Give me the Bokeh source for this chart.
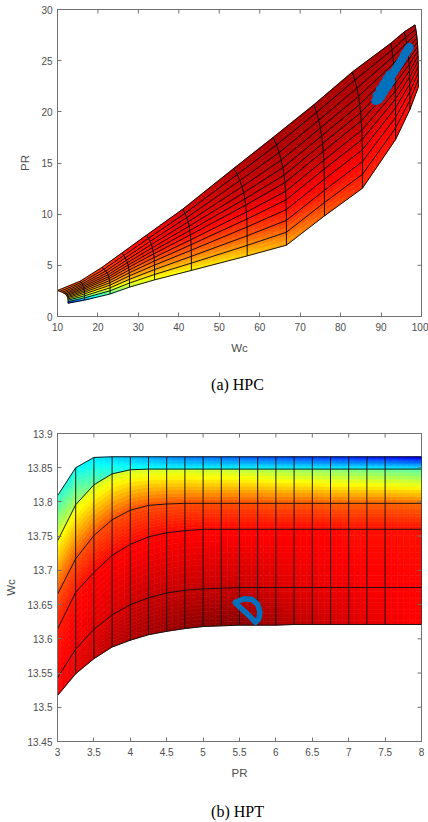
import numpy as np
from bokeh.plotting import figure
from bokeh.models import (ColumnDataSource, FixedTicker, Range1d, LinearAxis,
                          CustomJSTickFormatter)
from bokeh.layouts import column
from bokeh.embed import file_html
from bokeh.resources import INLINE

# ---------------- HPC map data (speed lines: surge end -> choke end) ----------
hpc_top_wc = [10.0, 15.6, 21.0, 25.9, 32.0, 41.0, 53.6, 63.3, 73.4, 82.9, 92.4, 95.7, 98.4]
hpc_top_pr = [2.54, 3.45, 4.8, 6.2, 7.95, 10.5, 14.48, 17.5, 20.7, 23.9, 26.7, 27.8, 28.5]
hpc_bot_wc = [12.6, 16.7, 23.0, 27.8, 34.0, 43.1, 56.9, 66.6, 76.0, 85.4, 93.6, 97.1, 99.2]
hpc_bot_pr = [1.3, 1.6, 2.2, 2.87, 3.58, 4.5, 5.92, 6.97, 9.83, 12.53, 17.3, 20.2, 22.4]
hpc_beta = [0, 0.07, 0.14, 0.21, 0.28, 0.35, 0.42, 0.50, 0.58, 0.67, 0.77, 0.88, 1.0]
# efficiency colour level (0..1 on jet) per speed line at beta = 0, 0.4, 0.75, 1
hpc_eff_knots = [0.0, 0.4, 0.75, 1.0]
hpc_eff_top = [0.78, 0.80, 0.83, 0.86, 0.89, 0.92, 0.95, 0.96, 0.96, 0.96, 0.96, 0.96, 0.96]
hpc_eff_mid = [0.74, 0.76, 0.79, 0.82, 0.85, 0.88, 0.91, 0.93, 0.94, 0.94, 0.94, 0.93, 0.93]
hpc_eff_low = [0.60, 0.62, 0.66, 0.70, 0.73, 0.76, 0.80, 0.84, 0.87, 0.88, 0.88, 0.88, 0.88]
hpc_eff_bot = [0.10, 0.25, 0.45, 0.55, 0.60, 0.63, 0.67, 0.71, 0.78, 0.83, 0.86, 0.86, 0.86]
hpc_op_wc = [88.7, 89.2, 89.7, 90.2, 90.7, 91.2, 91.7, 92.2, 92.7, 93.2, 93.7, 94.2, 94.7,
             95.2, 95.7, 96.2, 96.7, 97.0, 89.4, 90.0, 90.6, 91.2, 91.8, 92.4,
             89.0, 89.8, 90.6, 91.4, 92.1]
hpc_op_pr = [21.1, 21.4, 21.7, 22.0, 22.3, 22.7, 23.0, 23.3, 23.6, 23.9, 24.2, 24.5, 24.8,
             25.1, 25.5, 25.8, 26.1, 26.3, 21.2, 21.5, 21.9, 22.3, 22.6, 23.0,
             21.6, 22.2, 22.7, 23.2, 23.6]

# ---------------- HPT map data ------------------------------------------------
hpt_pr = [3, 3.25, 3.5, 3.75, 4, 4.25, 4.5, 4.75, 5, 5.25, 5.5, 5.75, 6, 6.25, 6.5, 6.75,
          7, 7.25, 7.5, 8]
hpt_wc_r0 = [13.517, 13.549, 13.571, 13.588, 13.598, 13.606, 13.611, 13.615, 13.618, 13.619,
             13.620, 13.620, 13.620, 13.621, 13.621, 13.621, 13.621, 13.621, 13.621, 13.621]
hpt_wc_r1 = [13.543, 13.585, 13.614, 13.635, 13.650, 13.660, 13.667, 13.671, 13.673, 13.674,
             13.675, 13.675, 13.675, 13.675, 13.675, 13.675, 13.675, 13.675, 13.675, 13.675]
hpt_wc_r2 = [13.614, 13.668, 13.697, 13.722, 13.738, 13.749, 13.755, 13.758, 13.760, 13.760,
             13.760, 13.760, 13.760, 13.760, 13.760, 13.760, 13.760, 13.760, 13.760, 13.760]
hpt_wc_r3 = [13.665, 13.717, 13.751, 13.774, 13.788, 13.795, 13.797, 13.798, 13.798, 13.798,
             13.798, 13.798, 13.798, 13.798, 13.798, 13.798, 13.798, 13.798, 13.798, 13.798]
hpt_wc_r4 = [13.743, 13.796, 13.825, 13.841, 13.847, 13.848, 13.848, 13.848, 13.848, 13.848,
             13.848, 13.848, 13.848, 13.848, 13.848, 13.848, 13.848, 13.848, 13.848, 13.848]
hpt_wc_r5 = [13.809, 13.850, 13.865, 13.866, 13.866, 13.866, 13.866, 13.866, 13.866, 13.866,
             13.866, 13.866, 13.866, 13.866, 13.866, 13.866, 13.866, 13.866, 13.866, 13.866]
hpt_eff_r0 = [0.88, 0.90, 0.92, 0.94, 0.95, 0.96, 0.97, 0.98, 0.99, 0.99, 0.99, 0.98, 0.96,
              0.94, 0.93, 0.92, 0.91, 0.90, 0.89, 0.87]
hpt_eff_r1 = [0.87, 0.89, 0.90, 0.91, 0.92, 0.93, 0.93, 0.93, 0.93, 0.93, 0.93, 0.92, 0.91,
              0.90, 0.90, 0.89, 0.89, 0.88, 0.88, 0.87]
hpt_eff_r2 = [0.85, 0.86, 0.87, 0.87, 0.87, 0.87, 0.87, 0.87, 0.87, 0.87, 0.87, 0.87, 0.87,
              0.87, 0.87, 0.87, 0.86, 0.86, 0.86, 0.86]
hpt_eff_r3 = [0.80, 0.80, 0.80, 0.80, 0.80, 0.80, 0.80, 0.80, 0.80, 0.80, 0.80, 0.80, 0.79,
              0.79, 0.79, 0.78, 0.78, 0.78, 0.78, 0.77]
hpt_eff_r4 = [0.62, 0.60, 0.58, 0.58, 0.58, 0.58, 0.58, 0.58, 0.57, 0.57, 0.56, 0.55, 0.54,
              0.53, 0.52, 0.51, 0.50, 0.49, 0.48, 0.46]
hpt_eff_r4_upper = [0.62, 0.55, 0.48, 0.43, 0.40, 0.39, 0.38, 0.38, 0.38, 0.38, 0.38, 0.38,
                    0.38, 0.38, 0.38, 0.38, 0.38, 0.38, 0.38, 0.37]
hpt_eff_r5 = [0.42, 0.38, 0.35, 0.33, 0.31, 0.29, 0.27, 0.25, 0.24, 0.23, 0.22, 0.21, 0.20,
              0.19, 0.18, 0.17, 0.16, 0.15, 0.14, 0.11]
hpt_op_pr = [5.443, 5.56, 5.675, 5.752, 5.78, 5.766, 5.72, 5.606, 5.514, 5.443]
hpt_op_wc = [13.6535, 13.6585, 13.6575, 13.650, 13.639, 13.6292, 13.6243, 13.6365, 13.6453,
             13.6526]

hpc_xticks = [10, 20, 30, 40, 50, 60, 70, 80, 90, 100]
hpc_yticks = [0, 5, 10, 15, 20, 25, 30]
hpt_xticks = [3, 3.5, 4, 4.5, 5, 5.5, 6, 6.5, 7, 7.5, 8]
hpt_yticks = [13.45, 13.5, 13.55, 13.6, 13.65, 13.7, 13.75, 13.8, 13.85, 13.9]

OP_BLUE = "#0072BD"
TXT = "#4d4d4d"
AX = "#707070"


def jet(c):
    c = min(max(c, 0.0), 1.0)
    r = min(max(1.5 - abs(4 * c - 3), 0), 1)
    g = min(max(1.5 - abs(4 * c - 2), 0), 1)
    b = min(max(1.5 - abs(4 * c - 1), 0), 1)
    return "#%02x%02x%02x" % (int(r * 255), int(g * 255), int(b * 255))


def bil(a00, a10, a11, a01, u, v):
    return (1 - u) * (1 - v) * a00 + u * (1 - v) * a10 + u * v * a11 + (1 - u) * v * a01


def add_cell(X, Y, C, nu, nv, out):
    for a in range(nu):
        u0, u1 = a / nu, (a + 1) / nu
        for b in range(nv):
            v0, v1 = b / nv, (b + 1) / nv
            corners = [(u0, v0), (u1, v0), (u1, v1), (u0, v1)]
            out["xs"].append([bil(*X, u, v) for u, v in corners])
            out["ys"].append([bil(*Y, u, v) for u, v in corners])
            out["c"].append(jet(bil(*C, (u0 + u1) / 2, (v0 + v1) / 2)))


def style(p, xticks, yticks, xlabel, ylabel, caption, cap_standoff, xr, yr):
    fmt = CustomJSTickFormatter(code="return String(Math.round(tick*1000)/1000);")
    p.xgrid.visible = False
    p.ygrid.visible = False
    p.outline_line_color = AX
    p.outline_line_width = 1
    for ax, ticks in ((p.xaxis[0], xticks), (p.yaxis[0], yticks)):
        ax.ticker = FixedTicker(ticks=ticks)
        ax.formatter = fmt
        ax.major_tick_in = 4
        ax.major_tick_out = 0
        ax.minor_tick_line_color = None
        ax.axis_line_color = AX
        ax.major_tick_line_color = AX
        ax.major_label_text_font = "Liberation Sans"
        ax.major_label_text_font_size = "10px"
        ax.major_label_text_color = TXT
        ax.axis_label_text_font = "Liberation Sans"
        ax.axis_label_text_font_size = "11.5px"
        ax.axis_label_text_font_style = "normal"
        ax.axis_label_text_color = TXT
    p.xaxis[0].axis_label = xlabel
    p.yaxis[0].axis_label = ylabel
    p.xaxis[0].major_label_standoff = 6
    p.xaxis[0].axis_label_standoff = 8
    p.yaxis[0].major_label_standoff = 5
    p.yaxis[0].axis_label_standoff = 7
    # mirrored inward ticks on the top and right edges of the box
    p.scatter(xticks, [yr[1]] * len(xticks), marker="dash", angle=np.pi / 2, size=8,
              line_color=AX, line_width=1)
    p.scatter([xr[1]] * len(yticks), yticks, marker="dash", angle=0, size=8,
              line_color=AX, line_width=1)
    # sub-figure caption: a tick-less axis below the main x axis
    cap = LinearAxis(ticker=FixedTicker(ticks=[]), axis_line_color=None,
                     major_tick_out=0, major_tick_in=0, minor_tick_line_color=None,
                     axis_label=caption, axis_label_standoff=cap_standoff,
                     axis_label_text_font="Liberation Serif",
                     axis_label_text_font_size="16px", axis_label_text_font_style="normal",
                     axis_label_text_color="black")
    p.add_layout(cap, "below")


# ================= HPC figure =================
hpc_xr, hpc_yr = (10, 100), (0, 30)
p1 = figure(width=428, height=395, x_range=Range1d(*hpc_xr), y_range=Range1d(*hpc_yr),
            output_backend="svg", toolbar_location=None,
            min_border_left=57, min_border_right=7, min_border_top=9, min_border_bottom=78,
            background_fill_color="white", border_fill_color="white")

ns = len(hpc_top_wc)
nb = len(hpc_beta)
GX = np.zeros((ns, nb))
GY = np.zeros((ns, nb))
GC = np.zeros((ns, nb))
for i in range(ns):
    for j, bt in enumerate(hpc_beta):
        GX[i, j] = hpc_top_wc[i] + (hpc_bot_wc[i] - hpc_top_wc[i]) * (1 - (1 - bt) ** 4)
        GY[i, j] = hpc_top_pr[i] + (hpc_bot_pr[i] - hpc_top_pr[i]) * bt
        GC[i, j] = np.interp(bt, hpc_eff_knots,
                             [hpc_eff_top[i], hpc_eff_mid[i], hpc_eff_low[i], hpc_eff_bot[i]])

cells = {"xs": [], "ys": [], "c": []}
for i in range(ns - 1):
    for j in range(nb - 1):
        X = (GX[i, j], GX[i + 1, j], GX[i + 1, j + 1], GX[i, j + 1])
        Y = (GY[i, j], GY[i + 1, j], GY[i + 1, j + 1], GY[i, j + 1])
        C = (GC[i, j], GC[i + 1, j], GC[i + 1, j + 1], GC[i, j + 1])
        add_cell(X, Y, C, 5, 3, cells)
p1.patches(xs="xs", ys="ys", fill_color="c", line_color="c", line_width=0.6,
           source=ColumnDataSource(cells))

lxs = [list(GX[:, j]) for j in range(nb)] + [list(GX[i, :]) for i in range(ns)]
lys = [list(GY[:, j]) for j in range(nb)] + [list(GY[i, :]) for i in range(ns)]
p1.multi_line(xs=lxs, ys=lys, line_color="#000000", line_width=1.0, line_alpha=0.9)

p1.scatter(hpc_op_wc, hpc_op_pr, marker="circle", size=9, fill_color=OP_BLUE,
           line_color=None)
style(p1, hpc_xticks, hpc_yticks, "Wc", "PR", "(a)  HPC", 19, hpc_xr, hpc_yr)

# ================= HPT figure =================
hpt_xr, hpt_yr = (3, 8), (13.45, 13.9)
p2 = figure(width=428, height=427, x_range=Range1d(*hpt_xr), y_range=Range1d(*hpt_yr),
            output_backend="svg", toolbar_location=None,
            min_border_left=57, min_border_right=7, min_border_top=38, min_border_bottom=81,
            background_fill_color="white", border_fill_color="white")

rows = [hpt_wc_r0, hpt_wc_r1, hpt_wc_r2, hpt_wc_r3, hpt_wc_r4, hpt_wc_r5]
eff_lo = [hpt_eff_r0, hpt_eff_r1, hpt_eff_r2, hpt_eff_r3, hpt_eff_r4_upper]
eff_hi = [hpt_eff_r1, hpt_eff_r2, hpt_eff_r3, hpt_eff_r4, hpt_eff_r5]
cells2 = {"xs": [], "ys": [], "c": []}
for r in range(len(rows) - 1):
    for k in range(len(hpt_pr) - 1):
        X = (hpt_pr[k], hpt_pr[k + 1], hpt_pr[k + 1], hpt_pr[k])
        Y = (rows[r][k], rows[r][k + 1], rows[r + 1][k + 1], rows[r + 1][k])
        C = (eff_lo[r][k], eff_lo[r][k + 1], eff_hi[r][k + 1], eff_hi[r][k])
        nu = 6 if hpt_pr[k + 1] - hpt_pr[k] > 0.3 else 3
        add_cell(X, Y, C, nu, 10, cells2)
p2.patches(xs="xs", ys="ys", fill_color="c", line_color="c", line_width=0.6,
           source=ColumnDataSource(cells2))

lxs2 = [list(hpt_pr) for _ in rows] + [[x] * len(rows) for x in hpt_pr]
lys2 = [list(r) for r in rows] + [[rw[k] for rw in rows] for k in range(len(hpt_pr))]
p2.multi_line(xs=lxs2, ys=lys2, line_color="#111111", line_width=1.0, line_alpha=0.95)

p2.line(hpt_op_pr, hpt_op_wc, line_color=OP_BLUE, line_width=5.5, line_join="round",
        line_cap="round")
style(p2, hpt_xticks, hpt_yticks, "PR", "Wc", "(b)  HPT", 21, hpt_xr, hpt_yr)

layout = column(p1, p2, spacing=0)
open("out.html", "w").write(file_html(layout, INLINE))
